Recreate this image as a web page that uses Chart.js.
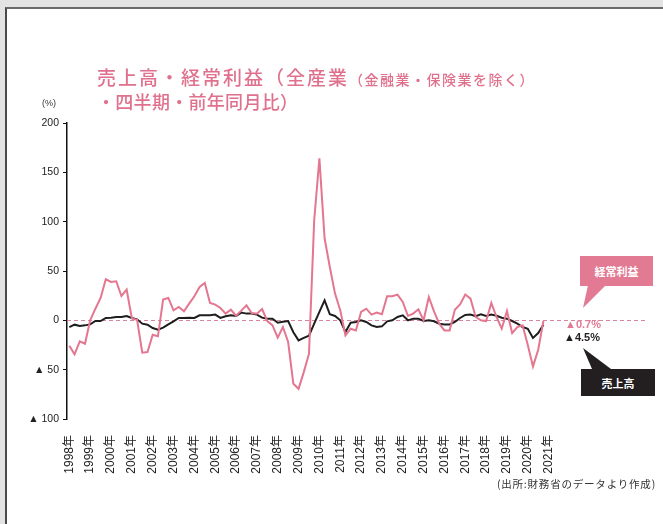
<!DOCTYPE html>
<html lang="ja">
<head>
<meta charset="utf-8">
<script src="https://cdn.jsdelivr.net/npm/chart.js@4.4.1/dist/chart.umd.min.js"></script>
<style>
    html, body { margin: 0; padding: 0; }
    body { width: 663px; height: 524px; background: #e3e3e3; position: relative; overflow: hidden; font-family: "Liberation Sans", "Noto Sans CJK JP", sans-serif; }
    .panel { position: absolute; left: 5px; top: 7px; right: 0; bottom: 0; background: #fff; border-left: 2px solid #4a4a4a; border-top: 2px solid #6a6a6a; }
    #chart { position: absolute; left: 0; top: 0; }
    .title { position: absolute; left: 97px; color: #e0718d; font-family: "Noto Sans CJK JP", sans-serif; font-weight: 500; white-space: nowrap; line-height: 1; }
    .title .big { font-size: 19px; letter-spacing: 2px; }
    .title .big2 { font-size: 18px; letter-spacing: 0.3px; }
    .title .small { font-size: 14px; letter-spacing: 1.5px; }
    .unit { position: absolute; left: 42px; top: 98px; font-size: 9px; color: #333; }
    .source { position: absolute; right: 7px; top: 476px; font-size: 10.5px; letter-spacing: 0.8px; color: #333; font-family: "Noto Sans CJK JP", sans-serif; }
    .last { position: absolute; font-weight: bold; font-size: 11px; font-family: "Liberation Sans", "DejaVu Sans", sans-serif; }
    .box { position: absolute; color: #fff; font-weight: bold; font-size: 11px; font-family: "Noto Sans CJK JP", sans-serif; display: flex; align-items: center; justify-content: center; }
    .tip { position: absolute; }
</style>
</head>
<body>
<div class="panel"></div>
<canvas id="chart" width="663" height="524"></canvas>

<div class="title" style="top:67px"><span class="big">売上高・経常利益（全産業</span><span class="small">（金融業・保険業を除く）</span></div>
<div class="title" style="top:92px"><span class="big2">・四半期・前年同月比）</span></div>
<div class="unit">(%)</div>
<div class="source">(出所:財務省のデータより作成)</div>

<div class="box" style="left:580px;top:256px;width:73px;height:30px;background:#e27a93">経常利益</div>
<svg class="tip" style="left:578px;top:285px" width="32" height="26"><polygon points="10,0 28,0 5,23" fill="#e27a93"/></svg>
<div class="box" style="left:581px;top:369px;width:74px;height:27px;background:#231f20">売上高</div>
<svg class="tip" style="left:578px;top:346px" width="36" height="24"><polygon points="5,2 14,23 33,23" fill="#231f20"/></svg>
<div class="last" id="lastProfit" style="left:565px;top:318px;color:#e27a93"></div>
<div class="last" id="lastSales" style="left:564px;top:331px;color:#231f20"></div>

<script>
// 四半期（1998年1-3月期〜2020年10-12月期）前年同期比、%
const years = ['1998年', '1999年', '2000年', '2001年', '2002年', '2003年', '2004年', '2005年',
    '2006年', '2007年', '2008年', '2009年', '2010年', '2011年', '2012年', '2013年',
    '2014年', '2015年', '2016年', '2017年', '2018年', '2019年', '2020年', '2021年'];

// 経常利益
const profit = [
    -25.7, -34.5, -21.3, -23.7, 0, 11.8, 22.7, 41.6,
    38.9, 39.6, 24.7, 31.1, 2, 0.5, -32.8, -32.1,
    -14.6, -16.2, 21, 22.7, 10.2, 13.5, 9.1, 16.9,
    24.4, 33.8, 37.9, 17.6, 15.9, 12.5, 6.8, 10.8,
    4.7, 9.8, 15.2, 7.4, 6.8, 11.5, -0.7, -5.1,
    -17.6, -6.8, -22, -64.3, -69.4, -52.5, -33.8, 101.5,
    164.1, 82.9, 54.1, 27.1, 10.2, -15.2, -8.5, -10.2,
    8.5, 11.8, 5.8, 7.8, 6.1, 24.4, 24.4, 26.1,
    18.6, 4.4, 6.8, 11.2, 0, 23.7, 9.1, -3.4,
    -10.2, -10.2, 10.8, 16.2, 26.1, 22, 3.4, 0,
    -0.7, 17.6, 3.4, -8.5, 9.5, -12.9, -6.8, -5.1,
    -25, -46.7, -29.8, -0.7
];

// 売上高
const sales = [
    -6.8, -4.4, -5.8, -5.1, -4.1, -0.7, -0.7, 2.4,
    2.7, 3.4, 3.4, 4.4, 2.4, 1, -3.4, -4.4,
    -7.8, -9.5, -7.4, -4.1, -1, 2.4, 2.4, 2.7,
    2.4, 5.1, 5.1, 5.1, 5.8, 2.4, 4.1, 5.1,
    4.4, 7.8, 6.8, 6.8, 5.8, 2.7, 1.7, 1.7,
    -2.4, -1.4, -0.7, -12, -20.3, -17.8, -15.5, -3.3,
    8.5, 20.3, 6.1, 4.4, 0, -11.8, -2.4, -1.7,
    0, -1.7, -5.1, -6.8, -6.1, -1, 0, 3.4,
    5.1, 0, 1.7, 1.7, -0.7, 0, -1, -3.4,
    -4.1, -4.1, -1.7, 2.4, 5.4, 5.8, 4.1, 6.1,
    4.4, 5.8, 4.7, 2.7, 1.7, -0.7, -3.4, -6.8,
    -8.5, -17.9, -12.9, -4.5
];

const PINK = '#e4768f';
const BLACK = '#1e1e1e';

const fmtLast = v => (v < 0 ? '▲' : '') + Math.abs(v).toFixed(1) + '%';
document.getElementById('lastProfit').textContent = fmtLast(profit[profit.length - 1]);
document.getElementById('lastSales').textContent = fmtLast(sales[sales.length - 1]);

const zeroLine = {
    id: 'zeroLine',
    beforeDatasetsDraw(chart) {
        const { ctx, chartArea, scales } = chart;
        const y = Math.round(scales.y.getPixelForValue(0)) + 0.5;
        ctx.save();
        ctx.strokeStyle = '#d8849b';
        ctx.lineWidth = 1;
        ctx.setLineDash([4, 3]);
        ctx.beginPath();
        ctx.moveTo(chartArea.left, y);
        ctx.lineTo(chartArea.right, y);
        ctx.stroke();
        ctx.restore();
    }
};

new Chart(document.getElementById('chart'), {
    type: 'line',
    data: {
        datasets: [
            { label: '経常利益', data: profit.map((v, i) => ({ x: i, y: v })), borderColor: PINK, borderWidth: 2, pointRadius: 0, tension: 0 },
            { label: '売上高', data: sales.map((v, i) => ({ x: i, y: v })), borderColor: BLACK, borderWidth: 2, pointRadius: 0, tension: 0 }
        ]
    },
    options: {
        responsive: false,
        devicePixelRatio: 1,
        animation: false,
        layout: { padding: { left: 0, top: 123, right: 18, bottom: 0 } },
        plugins: { legend: { display: false }, tooltip: { enabled: false } },
        scales: {
            x: {
                type: 'linear',
                min: -0.45,
                max: 110.5,
                grid: { display: false },
                border: { display: false },
                afterBuildTicks: axis => { axis.ticks = years.map((_, k) => ({ value: k * 4 })); },
                afterFit: axis => { axis.height = 105; },
                ticks: {
                    autoSkip: false,
                    minRotation: 90,
                    maxRotation: 90,
                    padding: 8,
                    color: '#222',
                    font: { size: 12, family: '"Liberation Sans", "Noto Sans CJK JP", sans-serif' },
                    callback: v => years[v / 4]
                }
            },
            y: {
                min: -100,
                max: 200,
                afterFit: axis => { axis.width = 67; },
                grid: { drawOnChartArea: false, drawTicks: true, tickLength: 4, color: '#111', lineWidth: 1 },
                border: { display: true, color: '#111', width: 1.5 },
                ticks: {
                    stepSize: 50,
                    padding: 4,
                    color: '#222',
                    font: { size: 10.5, family: '"Liberation Sans", "DejaVu Sans", sans-serif' },
                    callback: v => v < 0 ? '▲ ' + (-v) : String(v)
                }
            }
        }
    },
    plugins: [zeroLine]
});
</script>
</body>
</html>
